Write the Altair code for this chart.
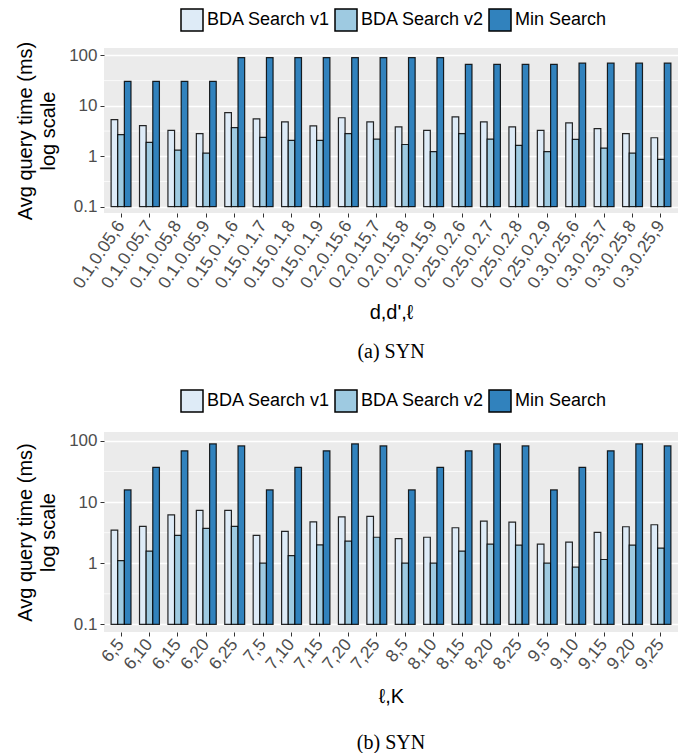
import altair as alt
import pandas as pd

series = ["BDA Search v1", "BDA Search v2", "Min Search"]
colors = ["#DEEBF7", "#9ECAE1", "#3182BD"]

cats_a = ["0.1,0.05,6", "0.1,0.05,7", "0.1,0.05,8", "0.1,0.05,9",
          "0.15,0.1,6", "0.15,0.1,7", "0.15,0.1,8", "0.15,0.1,9",
          "0.2,0.15,6", "0.2,0.15,7", "0.2,0.15,8", "0.2,0.15,9",
          "0.25,0.2,6", "0.25,0.2,7", "0.25,0.2,8", "0.25,0.2,9",
          "0.3,0.25,6", "0.3,0.25,7", "0.3,0.25,8", "0.3,0.25,9"]
v1_a = [5.3, 4.06, 3.27, 2.8, 7.3, 5.5, 4.8, 4.0, 5.8, 4.8,
        3.82, 3.27, 6.06, 4.8, 3.82, 3.27, 4.6, 3.54, 2.8, 2.33]
v2_a = [2.68, 1.88, 1.32, 1.15, 3.7, 2.37, 2.06, 2.06, 2.8, 2.19,
        1.71, 1.24, 2.8, 2.19, 1.64, 1.24, 2.16, 1.45, 1.15, 0.87]
min_a = [30.5, 30.5, 30.5, 30.5, 90, 90, 90, 90, 90, 90,
         90, 90, 66, 66, 66, 66, 70, 70, 70, 70]

cats_b = ["6,5", "6,10", "6,15", "6,20", "6,25",
          "7,5", "7,10", "7,15", "7,20", "7,25",
          "8,5", "8,10", "8,15", "8,20", "8,25",
          "9,5", "9,10", "9,15", "9,20", "9,25"]
v1_b = [3.49, 4.0, 6.17, 7.34, 7.34, 2.86, 3.32, 4.76, 5.73, 5.85,
        2.53, 2.66, 3.8, 4.88, 4.7, 2.05, 2.21, 3.2, 3.95, 4.26]
v2_b = [1.1, 1.58, 2.86, 3.71, 4.0, 1.0, 1.33, 2.0, 2.29, 2.66,
        1.0, 1.0, 1.58, 2.05, 1.98, 1.0, 0.86, 1.15, 1.98, 1.77]
min_b = [15.8, 37, 69, 89.5, 83, 15.8, 37, 69, 89.5, 83,
         15.8, 37, 69, 89.5, 83, 15.8, 37, 69, 89.5, 83]

major_ticks = [0.1, 1, 10, 100]
minor_ticks = [0.316, 3.16, 31.6]

FONT = "Liberation Sans"
y_title = ["Avg query time (ms)", "log scale"]


def panel(cats, v1, v2, mn, xtitle, caption, height, legend_y, label_angle,
          x_title_pad, cap_offset):
    rows = []
    for c, a, b, m in zip(cats, v1, v2, mn):
        rows.append({"cat": c, "series": series[0], "value": a})
        rows.append({"cat": c, "series": series[1], "value": b})
        rows.append({"cat": c, "series": series[2], "value": m})
    df = pd.DataFrame(rows)
    yscale = alt.Scale(type="log", domain=[0.075, 140], nice=False)
    yaxis = alt.Axis(values=major_ticks, format="~g", labelFontSize=17,
                     labelColor="#4D4D4D", tickColor="#333333", tickSize=4,
                     domain=False, gridColor="white", gridWidth=1.3,
                     titleFontSize=20, titleFont=FONT, titleFontWeight="normal",
                     titleColor="black", titleLineHeight=23, labelFont=FONT,
                     labelPadding=3, titlePadding=10)
    minor = alt.Chart(pd.DataFrame({"v": minor_ticks})).mark_rule(
        color="white", strokeWidth=0.7
    ).encode(y=alt.Y("v:Q", scale=yscale, axis=yaxis, title=y_title))
    bars = alt.Chart(df).mark_bar(stroke="black", strokeWidth=1.2, strokeOpacity=0.85).encode(
        x=alt.X("cat:N", sort=cats, title=xtitle,
                scale=alt.Scale(paddingInner=0.3, paddingOuter=0.25),
                axis=alt.Axis(labelAngle=label_angle, labelFontSize=17.5, labelFont=FONT,
                              labelColor="#4D4D4D", tickColor="#333333", tickSize=4,
                              domain=False, gridColor="white", gridWidth=1.3,
                              bandPosition=0.5, titleFontSize=20, titleFont=FONT,
                              titleFontWeight="normal", titleColor="black",
                              labelPadding=5, titlePadding=x_title_pad)),
        xOffset=alt.XOffset("series:N", sort=series,
                            scale=alt.Scale(paddingInner=0, paddingOuter=0)),
        y=alt.Y("value:Q", scale=yscale, axis=yaxis, title=y_title),
        y2=alt.datum(0.1),
        fill=alt.Fill("series:N", scale=alt.Scale(domain=series, range=colors),
                      legend=alt.Legend(orient="none", legendX=76, legendY=legend_y,
                                        direction="horizontal", title=None,
                                        symbolType="square", symbolSize=484,
                                        symbolStrokeColor="black", symbolStrokeWidth=1.5,
                                        labelFontSize=18, labelFont=FONT, labelColor="black",
                                        labelOffset=3, columnPadding=1, padding=0)),
    )
    return alt.layer(minor, bars).properties(
        width=574, height=height,
        title=alt.TitleParams(caption, orient="bottom", font="Liberation Serif",
                              fontSize=20, fontWeight="normal", color="black",
                              offset=cap_offset),
    )


top = panel(cats_a, v1_a, v2_a, min_a, "d,d',ℓ", "(a) SYN", 165, -40, -56, 11, 20)
bottom = panel(cats_b, v1_b, v2_b, min_b, "ℓ,K", "(b) SYN", 200, -43, -50, 14, 26)

chart = alt.vconcat(top, bottom, spacing=26).resolve_scale(fill="independent").configure_view(
    fill="#EBEBEB", stroke=None
).properties(padding={"left": 7, "top": 0, "right": 0, "bottom": 0})

chart.save("out.html", embed_options={"renderer": "svg", "actions": False})
